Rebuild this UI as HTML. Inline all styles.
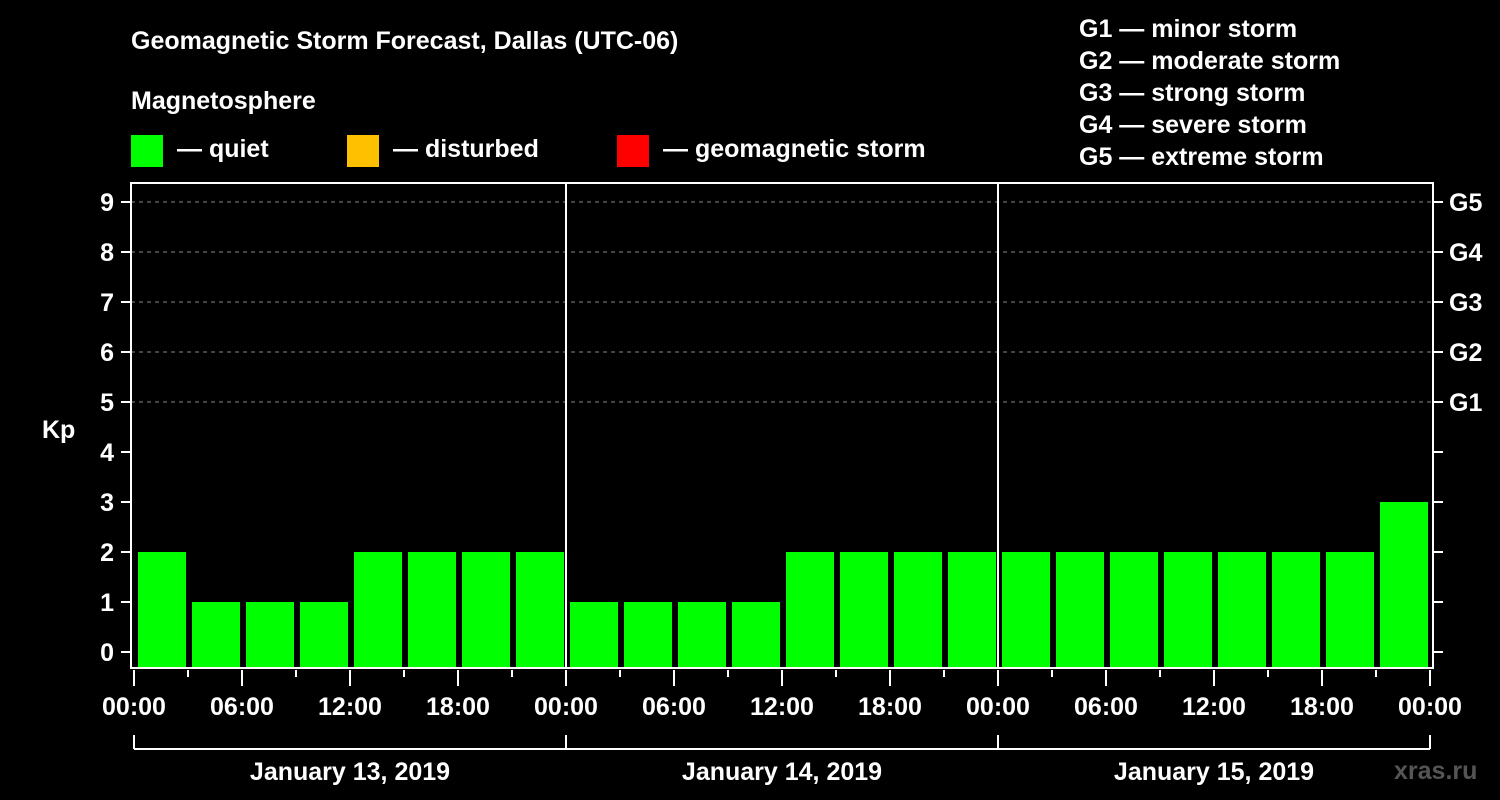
<!DOCTYPE html>
<html><head><meta charset="utf-8"><style>
body{margin:0;background:#000;width:1500px;height:800px;overflow:hidden}
svg{display:block;font-family:"Liberation Sans",Arial,sans-serif;font-weight:bold}
</style></head><body>
<svg id="chart" width="1500" height="800">
<g fill="#fff" font-size="25">
<text x="131" y="49">Geomagnetic Storm Forecast, Dallas (UTC-06)</text>
<text x="131" y="109">Magnetosphere</text>
<rect x="131" y="135" width="32" height="32" fill="#00ff00"/>
<text x="177" y="157">— quiet</text>
<rect x="347" y="135" width="32" height="32" fill="#ffc000"/>
<text x="393" y="157">— disturbed</text>
<rect x="617" y="135" width="32" height="32" fill="#ff0000"/>
<text x="663" y="157">— geomagnetic storm</text>
<text x="1079" y="37">G1 — minor storm</text>
<text x="1079" y="69">G2 — moderate storm</text>
<text x="1079" y="101">G3 — strong storm</text>
<text x="1079" y="133">G4 — severe storm</text>
<text x="1079" y="165">G5 — extreme storm</text>
<text x="42" y="438">Kp</text>
<text x="1394" y="779" fill="#555">xras.ru</text>
</g>
<g id="plot"></g>
</svg>
<script>
const kpValues=[2,1,1,1,2,2,2,2, 1,1,1,1,2,2,2,2, 2,2,2,2,2,2,2,3];
const dayLabels=["January 13, 2019","January 14, 2019","January 15, 2019"];
const hourLabels=["00:00","06:00","12:00","18:00"];
const gLabels=["G1","G2","G3","G4","G5"];
const yTicks=[0,1,2,3,4,5,6,7,8,9];
const L=131,R=1433,T=183,B=668,X0=134,DAY=432;
const y=v=>652-50*v;
const x=h=>X0+h*(DAY/24);
const ns="http://www.w3.org/2000/svg",g=document.getElementById('plot');
function mk(t,a,txt){const e=document.createElementNS(ns,t);for(const k in a)e.setAttribute(k,a[k]);if(txt!==undefined)e.textContent=txt;g.appendChild(e);return e;}
// grid
for(let v=5;v<=9;v++){const e=mk('line',{x1:L,x2:R,y1:y(v),y2:y(v),stroke:'#888','stroke-dasharray':'4,4','stroke-width':1});

}
// bars
kpValues.forEach((v,i)=>{const c=v>=5?'#ff0000':(v>=4?'#ffc000':'#00ff00');
const e=mk('rect',{x:x(i*3)+4,y:y(v),width:DAY/8-6,height:B-1-y(v),fill:c});

});
// day separators
for(let d=1;d<3;d++){const e=mk('line',{x1:x(d*24),x2:x(d*24),y1:T,y2:B,stroke:'#fff','stroke-width':2});

}
// frame
const fr=mk('rect',{x:L,y:T,width:R-L,height:B-T,fill:'none',stroke:'#fff','stroke-width':2});


// y ticks
yTicks.forEach(v=>{const a=mk('line',{x1:121,x2:L,y1:y(v),y2:y(v),stroke:'#fff','stroke-width':2});


const b=mk('line',{x1:R,x2:R+10,y1:y(v),y2:y(v),stroke:'#fff','stroke-width':2});


const t=mk('text',{x:114,y:y(v)+9,'text-anchor':'end',fill:'#fff','font-size':25},String(v));

});
gLabels.forEach((s,i)=>{const t=mk('text',{x:1449,y:y(5+i)+9,fill:'#fff','font-size':25},s);

});
// x ticks
for(let h=0;h<=72;h+=3){const maj=h%6===0;const e=mk('line',{x1:x(h),x2:x(h),y1:B+2,y2:maj?B+18:B+9,stroke:'#fff','stroke-width':2});


if(maj){const t=mk('text',{x:x(h),y:715,'text-anchor':'middle',fill:'#fff','font-size':25},hourLabels[(h/6)%4]);

}}
// day bracket
const br=mk('line',{x1:X0,x2:x(72),y1:749,y2:749,stroke:'#fff','stroke-width':2});


for(let d=0;d<=3;d++){const e=mk('line',{x1:x(d*24),x2:x(d*24),y1:735,y2:749,stroke:'#fff','stroke-width':2});

}
dayLabels.forEach((s,d)=>{const t=mk('text',{x:x(d*24+12),y:780,'text-anchor':'middle',fill:'#fff','font-size':25},s);

});
</script>
</body></html>
